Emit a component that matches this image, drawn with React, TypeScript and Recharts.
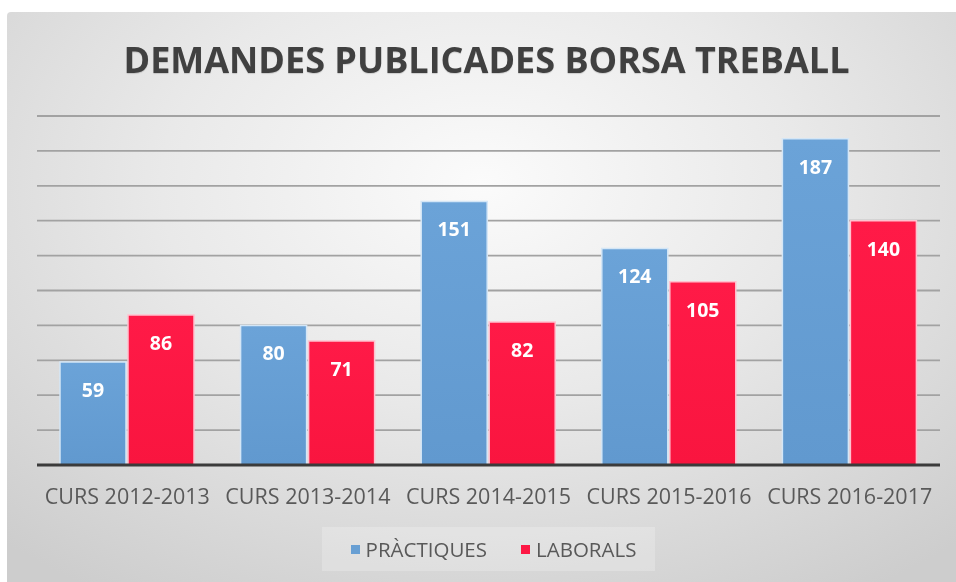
import { BarChart, Bar, XAxis, YAxis, CartesianGrid, LabelList } from 'recharts'

const cursos = ['CURS 2012-2013', 'CURS 2013-2014', 'CURS 2014-2015', 'CURS 2015-2016', 'CURS 2016-2017']
const practiques = [59, 80, 151, 124, 187]
const laborals = [86, 71, 82, 105, 140]
const yTicks = [0, 20, 40, 60, 80, 100, 120, 140, 160, 180, 200]

const series = [
  { key: 'practiques', name: 'PRÀCTIQUES', color: '#689fd3', edge: '#d4e6f6', grad: 'gradBlue' },
  { key: 'laborals', name: 'LABORALS', color: '#fd1844', edge: '#ffc2cf', grad: 'gradRed' },
]

const data = cursos.map((c, i) => ({ curs: c, practiques: practiques[i], laborals: laborals[i] }))

const FONT = '"Open Sans", "DejaVu Sans", sans-serif'

export default function App() {
  return (
    <div style={{ position: 'fixed', left: 0, top: 0, width: 956, height: 582, background: '#fff', fontFamily: FONT }}>
      <div style={{
        position: 'absolute', left: 7, top: 12, width: 949, height: 570,
        background: 'radial-gradient(ellipse 75% 85% at 50% 30%, #fbfbfb 0%, #e9e9e9 45%, #cdcdcd 100%)',
        borderTopLeftRadius: 4,
      }}>
        <div style={{
          position: 'absolute', left: 5, top: 23, width: 949, textAlign: 'center',
          fontSize: 36, fontWeight: 700, color: '#404040', letterSpacing: 0,
          textShadow: '0 1px 1px rgba(0,0,0,0.15)',
        }}>
          DEMANDES PUBLICADES BORSA TREBALL
        </div>
        <BarChart
          width={949}
          height={570}
          data={data}
          margin={{ top: 104, right: 16, left: 30, bottom: 77 }}
          barCategoryGap={23}
          barGap={2}
        >
          <defs>
            <linearGradient id="gradBlue" x1="0" y1="0" x2="0" y2="1">
              <stop offset="0%" stopColor="#6ba3d8" />
              <stop offset="100%" stopColor="#6199cf" />
            </linearGradient>
            <linearGradient id="gradRed" x1="0" y1="0" x2="0" y2="1">
              <stop offset="0%" stopColor="#ff1a47" />
              <stop offset="100%" stopColor="#f9153f" />
            </linearGradient>
          </defs>
          <CartesianGrid vertical={false} stroke="#a2a2a2" strokeWidth={1.8} />
          <YAxis hide domain={[0, 200]} ticks={yTicks} />
          <XAxis
            dataKey="curs"
            height={40}
            tickLine={false}
            axisLine={{ stroke: '#3b3b3b', strokeWidth: 3 }}
            tick={{ fill: '#595959', fontSize: 21.5, fontFamily: FONT, dy: 16 }}
            interval={0}
          />
          {series.map((s) => (
            <Bar
              key={s.key}
              dataKey={s.key}
              name={s.name}
              fill={`url(#${s.grad})`}
              stroke={s.edge}
              strokeWidth={1.5}
              isAnimationActive={false}
            >
              <LabelList
                dataKey={s.key}
                position="insideTop"
                offset={21}
                fill="#fff"
                fontSize={19.5}
                fontWeight={700}
                fontFamily={FONT}
              />
            </Bar>
          ))}
        </BarChart>
        <div style={{
          position: 'absolute', left: 315, top: 515, width: 333, height: 44,
          background: 'rgba(255,255,255,0.22)', display: 'flex', alignItems: 'center',
          justifyContent: 'center', gap: 34, paddingLeft: 10, boxSizing: 'border-box',
        }}>
          {series.map((s) => (
            <div key={s.key} style={{ display: 'flex', alignItems: 'center', gap: 6 }}>
              <span style={{ width: 9, height: 9, background: s.color, display: 'inline-block' }} />
              <span style={{ fontSize: 20.5, color: '#595959' }}>{s.name}</span>
            </div>
          ))}
        </div>
      </div>
    </div>
  )
}
